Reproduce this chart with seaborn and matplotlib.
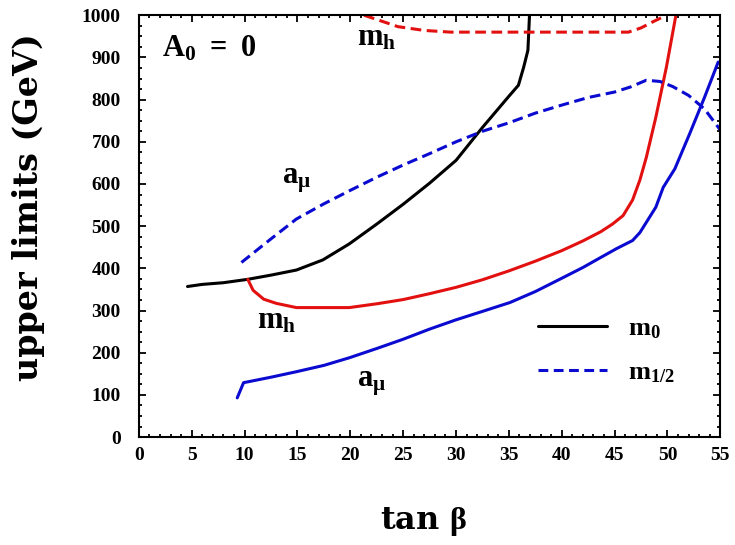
import matplotlib
matplotlib.use("Agg")
import matplotlib.pyplot as plt
from matplotlib.lines import Line2D
from matplotlib.ticker import MultipleLocator
import seaborn as sns

# m0 upper limit (solid black)
m0_tanb = [4.6, 6, 8, 10.3, 12.5, 14.9, 17.4, 19.9, 22.5, 25, 27.5, 30, 32.5, 35, 35.9, 36.4, 36.8, 36.95]
m0_val = [357, 362, 366, 374, 384, 396, 420, 458, 505, 552, 602, 656, 734, 808, 834, 877, 917, 1000]

# m_h bound (solid red)
mh_tanb = [10.3, 10.8, 11.8, 13, 14.9, 17.5, 19.9, 22.5, 25, 27.5, 30, 32.5, 35, 37.5, 40, 42,
           43.7, 44.8, 45.8, 46.7, 47.4, 48.0, 48.9, 49.9, 50.8]
mh_val = [374, 348, 327, 317, 307, 307, 307, 316, 326, 340, 355, 373, 394, 417, 442, 465,
          487, 505, 525, 562, 610, 663, 758, 877, 1000]

# m_h bound (dashed red)
mhd_tanb = [21.3, 22.5, 24.5, 27, 29.5, 35, 40, 46.3, 47.5, 48.5, 49.9]
mhd_val = [1000, 990, 973, 964, 960, 960, 960, 960, 970, 983, 1000]

# a_mu bound (solid blue)
amu_tanb = [9.3, 9.9, 12.5, 14.9, 17.5, 19.9, 22.5, 25, 27.5, 30, 32.5, 35.1, 37.5, 39.8, 42,
            43.7, 45.2, 46.7, 47.4, 48.0, 48.9, 49.6, 50.7, 52.1, 53.5, 54.8]
amu_val = [93, 129, 142, 155, 170, 188, 210, 232, 256, 278, 298, 319, 345, 374, 402,
           426, 447, 466, 485, 509, 545, 592, 636, 719, 805, 889]

# a_mu bound (dashed blue)
amud_tanb = [9.7, 12.5, 14.9, 17.5, 20, 22.5, 25, 27.5, 30, 32.5, 35, 37.5, 40, 42.5, 45,
             46.5, 48.0, 49.3, 50.5, 52, 53.5, 55]
amud_val = [414, 470, 517, 553, 585, 616, 645, 672, 700, 725, 745, 768, 787, 805, 818,
            830, 846, 843, 831, 810, 778, 728]

legend_labels = [r"$\mathbf{m}_{\mathbf{0}}$", r"$\mathbf{m}_{\mathrm{1/2}}$"]

RED = "#e31010"
BLUE = "#0a0ad0"
dash = (0, (3.5, 1.8))

sns.set_style("ticks")
plt.rcParams["font.family"] = ["Liberation Serif", "DejaVu Serif"]
plt.rcParams["font.weight"] = "bold"
plt.rcParams["text.color"] = "black"
plt.rcParams["axes.labelcolor"] = "black"
plt.rcParams["mathtext.fontset"] = "custom"
plt.rcParams["mathtext.rm"] = "Liberation Serif"
plt.rcParams["mathtext.bf"] = "Liberation Serif:bold"
plt.rcParams["mathtext.it"] = "Liberation Serif:bold"

fig = plt.figure(figsize=(7.35, 5.45), dpi=100)
ax = fig.add_axes([0.189, 0.198, 0.791, 0.774])

sns.lineplot(x=m0_tanb, y=m0_val, color="black", lw=2.2, sort=False, estimator=None, ax=ax)
sns.lineplot(x=mh_tanb, y=mh_val, color=RED, lw=2.2, sort=False, estimator=None, ax=ax)
sns.lineplot(x=mhd_tanb, y=mhd_val, color=RED, lw=2.2, linestyle=dash, sort=False, estimator=None, ax=ax)
sns.lineplot(x=amu_tanb, y=amu_val, color=BLUE, lw=2.2, sort=False, estimator=None, ax=ax)
sns.lineplot(x=amud_tanb, y=amud_val, color=BLUE, lw=2.2, linestyle=dash, sort=False, estimator=None, ax=ax)

ax.set_xlim(0, 55)
ax.set_ylim(0, 1000)
ax.xaxis.set_major_locator(MultipleLocator(5))
ax.xaxis.set_minor_locator(MultipleLocator(1))
ax.yaxis.set_major_locator(MultipleLocator(100))
ax.yaxis.set_minor_locator(MultipleLocator(25))
ax.tick_params(which="both", direction="in", top=True, right=True, width=1.3,
               colors="black", labelcolor="black")
ax.tick_params(which="major", length=5)
ax.tick_params(which="minor", length=2.5)
ax.tick_params(axis="x", pad=7)
ax.tick_params(axis="y", pad=13)
for lab in ax.get_xticklabels() + ax.get_yticklabels():
    lab.set_fontsize(14)
    lab.set_fontweight("bold")
for sp in ax.spines.values():
    sp.set_linewidth(1.5)
    sp.set_color("black")

ax.set_xlabel(r"tan $\mathrm{β}$", fontsize=23, fontweight="bold", family="DejaVu Serif")
ax.xaxis.set_label_coords(0.49, -0.2)
ax.xaxis.label.set_va("center")
ax.set_ylabel("upper limits (GeV)", fontsize=24, fontweight="bold", family="DejaVu Serif")
ax.yaxis.set_label_coords(-0.19, 0.544)
ax.yaxis.label.set_va("center")

ax.text(2.2, 920, r"$\mathbf{A}_{\mathbf{0}}\ \mathbf{=\ 0}$", fontsize=22, va="center", ha="left")
ax.text(20.6, 945, r"$\mathbf{m}_{\mathbf{h}}$", fontsize=22, va="center", ha="left")
ax.text(13.5, 608, r"$\mathbf{a}_{\mathrm{\mu}}$", fontsize=22, va="center", ha="left")
ax.text(11.2, 275, r"$\mathbf{m}_{\mathbf{h}}$", fontsize=22, va="center", ha="left")
ax.text(20.6, 128, r"$\mathbf{a}_{\mathrm{\mu}}$", fontsize=22, va="center", ha="left")

handles = [Line2D([], [], color="black", lw=2.2),
           Line2D([], [], color=BLUE, lw=2.2, linestyle=(0, (3.2, 1.8)))]
ax.legend(handles, legend_labels, loc="center left", bbox_to_anchor=(0.687, 0.204),
          frameon=False, fontsize=19, borderpad=0, borderaxespad=0,
          handlelength=2.6, handletextpad=0.8, labelspacing=0.75)

fig.savefig("out.png", dpi=100)
